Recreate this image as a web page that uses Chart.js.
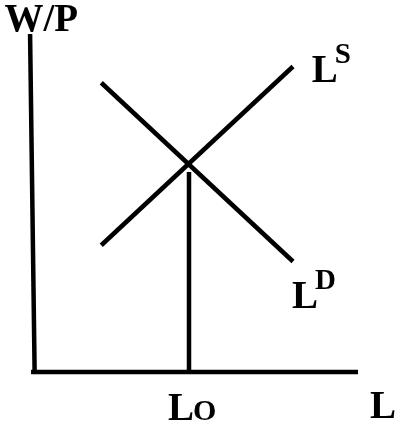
<!DOCTYPE html>
<html lang="en">
  <head>
    <meta charset="UTF-8" />
    <title>Labour market</title>
    <style>
      * {
        margin: 0;
        padding: 0;
        box-sizing: border-box;
      }
      body {
        background: white;
      }
    </style>
  </head>
  <body>
    <canvas id="myChart" width="397" height="429"></canvas>

    <script src="https://cdn.jsdelivr.net/npm/chart.js"></script>
    <script>
      // values in chart units (L across, W/P up), origin at the axis corner
      const demandL = [2.1, 8.0];
      const demandW = [8.9, 3.4];
      const supplyL = [2.1, 8.0];
      const supplyW = [3.9, 9.4];
      const equilibriumL = 4.8;
      const equilibriumW = 6.15;
      const axisLMax = 10;
      const axisWMax = 10.4;

      const black = "#000";
      const serif = "'Liberation Serif', 'Times New Roman', Times, serif";

      function seg(xs, ys) {
        return xs.map((x, i) => ({ x: x, y: ys[i] }));
      }

      function lineSet(points) {
        return {
          data: points,
          borderColor: black,
          borderWidth: 4.5,
          borderCapStyle: "butt",
          pointRadius: 0,
          showLine: true,
          fill: false,
          tension: 0,
        };
      }

      const data = {
        datasets: [
          lineSet(seg([-0.06, axisLMax], [0, 0])),
          lineSet(seg([0.05, -0.09], [0, axisWMax])),
          lineSet(seg(demandL, demandW)),
          lineSet(seg(supplyL, supplyW)),
          lineSet(seg([equilibriumL, equilibriumL], [0, equilibriumW])),
        ],
      };

      const labelsPlugin = {
        id: "labelsPlugin",
        afterDatasetsDraw(chart) {
          const {
            ctx,
            scales: { x, y },
          } = chart;
          ctx.save();
          ctx.fillStyle = black;
          ctx.textBaseline = "alphabetic";
          ctx.textAlign = "left";

          function text(str, lx, ly, size) {
            ctx.font = "bold " + size + "px " + serif;
            const px = x.getPixelForValue(lx);
            const py = y.getPixelForValue(ly);
            ctx.fillText(str, px, py);
            return px + ctx.measureText(str).width;
          }
          function sup(str, px, ly, size) {
            ctx.font = "bold " + size + "px " + serif;
            ctx.fillText(str, px, y.getPixelForValue(ly));
          }

          text("W/P", -0.88, 10.5, 39);

          let end = text("L", 8.58, 8.92, 39);
          sup("S", end - 3, 9.5, 29);

          end = text("L", 7.97, 1.97, 39);
          sup("D", end - 3, 2.55, 29);

          text("L", 10.37, -1.415, 39);

          end = text("L", 4.15, -1.48, 39);
          sup("O", end - 1, -1.48, 30);
          ctx.restore();
        },
      };

      const config = {
        type: "scatter",
        data: data,
        options: {
          responsive: false,
          animation: false,
          layout: { padding: 0 },
          plugins: {
            legend: { display: false },
            tooltip: { enabled: false },
          },
          scales: {
            x: { display: false, min: -1.0154, max: 11.2 },
            y: { display: false, min: -1.754, max: 11.446 },
          },
        },
        plugins: [labelsPlugin],
      };

      const myChart = new Chart(document.getElementById("myChart"), config);
    </script>
  </body>
</html>
